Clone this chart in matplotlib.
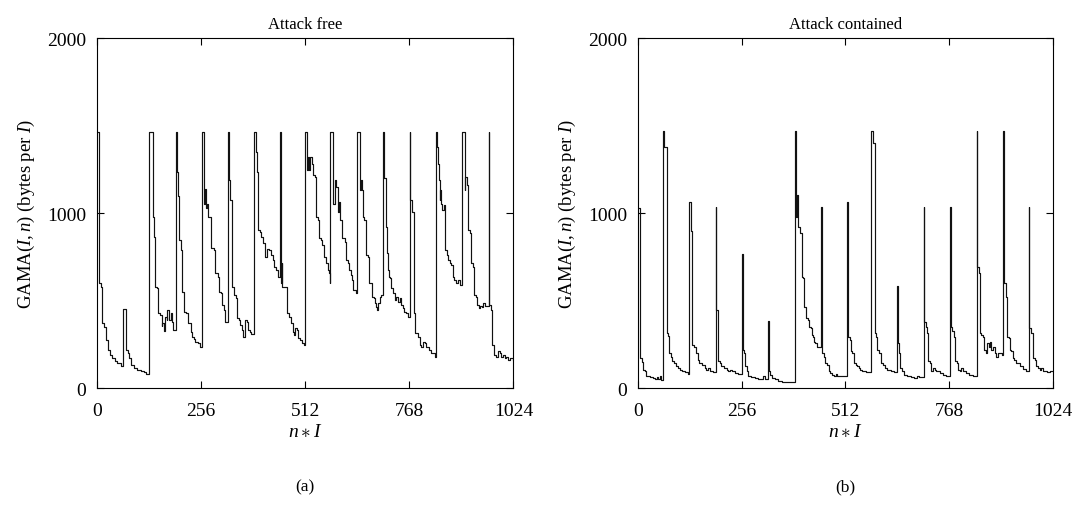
import matplotlib
matplotlib.use("Agg")
import matplotlib.pyplot as plt

plt.rcParams['font.family'] = ['Liberation Serif', 'DejaVu Serif']
plt.rcParams['mathtext.fontset'] = 'custom'
plt.rcParams['mathtext.rm'] = 'Liberation Serif'
plt.rcParams['mathtext.it'] = 'Liberation Serif:italic'

# step points (n*I where the value starts, GAMA value)
free_x = [0, 4, 5, 6, 9, 12, 17, 22, 27, 32, 38, 43, 50, 58,
          63, 71, 75, 78, 83, 91, 99, 107, 115, 121,
          128, 137, 138, 140, 142, 148, 151, 156, 159, 161, 164, 166, 171, 173, 177, 181, 185, 187,
          193, 196, 198, 201, 207, 209, 214, 215, 220, 223, 230, 234, 238, 242, 248, 253,
          257, 264, 266, 268, 271, 274, 281, 287, 291, 297, 300, 305, 308, 312, 314,
          322, 324, 328, 331, 336, 338, 341, 344, 348, 352, 356, 359, 363, 364, 368, 371, 377, 379,
          387, 390, 393, 395, 401, 404, 407, 412, 413, 418, 423, 428, 432, 436, 441, 445,
          451, 452, 455, 456, 467, 472, 477, 481, 484, 487, 491, 495, 499, 504, 509,
          512, 516, 520, 522, 524, 528, 532, 536, 538, 544, 546, 551, 554, 559, 562, 567, 571, 573,
          574, 581, 584, 587, 592, 595, 598, 602, 603, 610, 612, 618, 620, 625, 628, 630, 636,
          639, 646, 648, 651, 653, 657, 661, 667, 669, 675, 677, 680, 683, 685, 688, 691, 695, 699,
          703, 706, 710, 713, 716, 718, 721, 724, 728, 732, 736, 740, 744, 748, 752, 756, 761, 765,
          769, 770, 775, 779, 782, 783, 789, 793, 797, 801, 806, 810, 816, 822, 830,
          833, 836, 838, 841, 843, 844, 847, 849, 852, 855, 860, 863, 867, 871, 875, 879, 883, 887, 892,
          897, 905, 906, 909, 912, 916, 920, 924, 926, 931, 934, 939, 942, 947, 950, 955,
          963, 964, 969, 971, 975, 977, 982, 986, 990, 994, 998, 1002, 1006, 1010, 1016, 1022, 1024]
free_y = [1465, 1100, 1000, 600, 580, 370, 350, 275, 218, 190, 170, 157, 142, 127,
          452, 218, 199, 170, 132, 117, 104, 95, 89, 81,
          1465, 1230, 980, 865, 580, 570, 427, 418, 353, 370, 323, 408, 389, 446, 389, 427, 380, 332,
          1465, 1235, 1100, 845, 788, 550, 522, 437, 431, 370, 322, 294, 279, 265, 256, 237,
          1465, 1054, 1140, 1030, 1050, 978, 798, 788, 655, 636, 550, 541, 475, 446, 380,
          1465, 1187, 1073, 580, 570, 532, 512, 398, 389, 360, 332, 294, 322, 389, 380, 332, 322, 309,
          1465, 1350, 1235, 902, 893, 864, 826, 807, 750, 797, 788, 760, 731, 693, 674, 636,
          1465, 598, 712, 579, 427, 408, 370, 322, 304, 342, 332, 285, 275, 260, 246,
          1465, 1244, 1320, 1244, 1320, 1282, 1216, 1206, 978, 959, 855, 845, 817, 750, 712, 674, 655, 602,
          1465, 1054, 1187, 1149, 1007, 1064, 959, 940, 855, 836, 731, 712, 674, 646, 617, 560, 541,
          1465, 1130, 1187, 1130, 978, 959, 760, 750, 598, 579, 522, 512, 484, 465, 446, 484, 522, 532,
          1465, 1200, 921, 769, 674, 636, 627, 570, 541, 503, 522, 493, 512, 474, 455, 436, 427, 408,
          1465, 1073, 1007, 427, 408, 313, 294, 247, 237, 265, 256, 237, 218, 199, 180,
          1465, 1380, 1282, 1187, 1073, 1130, 1054, 1016, 1045, 788, 760, 731, 712, 703, 636, 617, 602, 617, 589,
          1465, 1130, 1206, 1159, 902, 883, 712, 693, 532, 522, 474, 455, 469, 465, 484, 469,
          1465, 474, 446, 247, 237, 190, 180, 209, 199, 180, 190, 170, 180, 161, 171, 161, 161]

contained_x = [0, 5, 9, 11, 13, 17, 21, 29, 38, 43, 46, 50, 54, 58,
               62, 65, 71, 71, 75, 76, 81, 83, 90, 93, 98, 104, 108, 116, 124,
               127, 130, 134, 134, 139, 142, 147, 149, 150, 157, 165, 169, 173, 177, 186,
               192, 193, 198, 198, 202, 206, 213, 219, 223, 227, 231, 239, 247,
               257, 259, 262, 264, 268, 272, 280, 288, 296, 309, 313,
               322, 323, 326, 330, 338, 346, 356,
               387, 389, 393, 396, 399, 401, 404, 407, 410, 414, 415, 420, 422, 426, 429, 432, 434, 438, 442,
               452, 453, 455, 459, 461, 467, 471, 475, 479, 484, 488, 492,
               516, 518, 519, 522, 525, 529, 533, 537, 541, 545, 549, 553, 562,
               575, 580, 585, 585, 588, 590, 595, 599, 604, 609, 615, 624, 632,
               640, 642, 644, 646, 652, 656, 665, 673, 681, 689, 693,
               705, 706, 710, 713, 715, 720, 724, 728, 732, 736, 744, 753, 761,
               771, 772, 776, 779, 781, 786, 790, 794, 798, 802, 810, 818, 827,
               836, 837, 841, 843, 847, 851, 855, 859, 861, 866, 868, 872, 876, 880, 884, 888, 897,
               901, 902, 903, 907, 911, 915, 917, 921, 925, 929, 933, 942, 950, 958,
               964, 966, 970, 975, 979, 983, 987, 991, 995, 999, 1008, 1016, 1022, 1024]
contained_y = [1030, 170, 160, 150, 104, 95, 66, 62, 56, 50, 62, 50, 66, 47,
               1468, 1380, 1263, 313, 295, 199, 180, 152, 142, 127, 113, 104, 95, 89, 81,
               1064, 900, 731, 247, 237, 199, 180, 161, 142, 133, 114, 104, 114, 95, 89,
               1035, 446, 370, 152, 142, 123, 114, 104, 95, 104, 95, 85, 81,
               765, 218, 199, 123, 95, 66, 62, 56, 50, 66, 50,
               383, 95, 76, 56, 50, 42, 37,
               1468, 978, 1102, 921, 902, 883, 636, 627, 465, 455, 399, 389, 351, 342, 304, 294, 265, 256, 237,
               1035, 218, 199, 180, 142, 133, 95, 85, 76, 70, 81, 70,
               1064, 560, 294, 275, 209, 199, 142, 133, 123, 114, 104, 95, 89,
               1468, 1400, 1320, 313, 294, 218, 199, 142, 133, 114, 104, 95, 89,
               583, 256, 199, 114, 95, 76, 66, 62, 56, 70, 62,
               1035, 380, 351, 313, 152, 142, 95, 114, 104, 95, 85, 76, 70,
               1035, 351, 323, 294, 152, 142, 104, 95, 114, 95, 85, 76, 70,
               1468, 693, 655, 313, 304, 294, 218, 199, 256, 237, 265, 218, 237, 199, 180, 199, 190,
               1468, 855, 598, 522, 294, 285, 218, 209, 170, 161, 142, 123, 108, 95,
               1035, 342, 313, 170, 161, 123, 114, 104, 114, 95, 89, 100, 95, 95]

titles = ["Attack free", "Attack contained"]
panel_tags = ["(a)", "(b)"]
x_ticks = [0, 256, 512, 768, 1024]
y_ticks = [0, 1000, 2000]

fig = plt.figure(figsize=(10.78, 5.06), dpi=100)
ax_a = fig.add_axes([0.090, 0.2312, 0.3863, 0.6917])
ax_b = fig.add_axes([0.5918, 0.2312, 0.3850, 0.6917])

series = [(free_x, free_y), (contained_x, contained_y)]
for ax, (xs, ys), title, tag in zip([ax_a, ax_b], series, titles, panel_tags):
    ax.plot(xs, ys, drawstyle='steps-post', color='#111111', lw=0.85)
    ax.set_xlim(0, 1024)
    ax.set_ylim(0, 2000)
    ax.set_xticks(x_ticks)
    ax.set_yticks(y_ticks)
    ax.tick_params(direction='in', length=5, width=0.8, top=True, right=True,
                   labelsize=14)
    ax.tick_params(axis='x', pad=10)
    ax.tick_params(axis='y', pad=8)
    for s in ax.spines.values():
        s.set_linewidth(0.8)
    ax.set_title(title, fontsize=12, pad=7)
    ax.set_xlabel(r'$n \ast I$', fontsize=14, labelpad=3)
    ax.set_ylabel(r'GAMA$(I, n)$ (bytes per $I$)', fontsize=13.5, labelpad=7)
    ax.text(0.5, -0.28, tag, transform=ax.transAxes, ha='center', va='center',
            fontsize=12.5)

fig.savefig("out.png", dpi=100)
